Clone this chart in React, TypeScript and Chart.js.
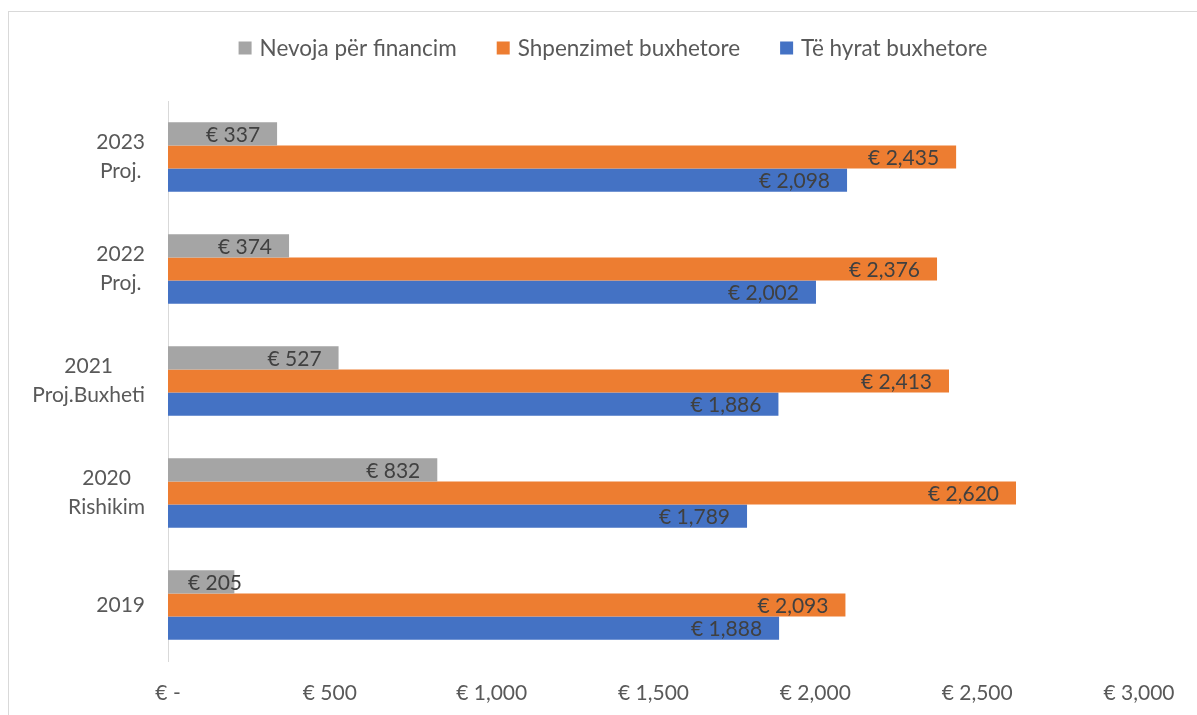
import React, { useEffect, useRef } from 'react';
import { Chart, registerables } from 'chart.js';

Chart.register(...registerables);

const categories: string[][] = [['2023', 'Proj.'], ['2022', 'Proj.'], ['2021', 'Proj.Buxheti'], ['2020', 'Rishikim'], ['2019']];
const seriesNames = ['Nevoja për financim', 'Shpenzimet buxhetore', 'Të hyrat buxhetore'];
const financingNeed = [337, 374, 527, 832, 205];
const budgetExpenditure = [2435, 2376, 2413, 2620, 2093];
const budgetRevenue = [2098, 2002, 1886, 1789, 1888];
const xTickValues = [0, 500, 1000, 1500, 2000, 2500, 3000];
const seriesColors = ['#A5A5A5', '#ED7D31', '#4472C4'];

const FONT = 'Lato';
const FONT_SIZE = 21;
const LEGEND_FONT_SIZE = 22.5;
const fmt = (v: number) => (v === 0 ? '€ -' : '€ ' + v.toLocaleString('en-US'));

const customPlugin = {
  id: 'customDraw',
  afterDraw(chart: any) {
    const ctx: CanvasRenderingContext2D = chart.ctx;
    const area = chart.chartArea;
    ctx.save();
    ctx.font = `${FONT_SIZE}px ${FONT}`;

    // data labels (inside end)
    ctx.fillStyle = '#404040';
    ctx.textAlign = 'right';
    ctx.textBaseline = 'middle';
    chart.data.datasets.forEach((ds: any, di: number) => {
      const meta = chart.getDatasetMeta(di);
      meta.data.forEach((bar: any, i: number) => {
        const v = ds.data[i];
        const xr = Math.max(bar.x - 17, bar.base + 74);
        ctx.fillText(fmt(v), xr, bar.y + 1);
      });
    });

    // category labels
    const yScale = chart.scales.y;
    ctx.fillStyle = '#595959';
    ctx.textAlign = 'center';
    const rightEdge = area.left - 23;
    const lh = 28.7;
    categories.forEach((lines, i) => {
      const cy = yScale.getPixelForValue(i);
      const maxW = Math.max(...lines.map((l) => ctx.measureText(l).width));
      const cx = rightEdge - maxW / 2;
      lines.forEach((l, j) => {
        ctx.fillText(l, cx, cy + (j - (lines.length - 1) / 2) * lh);
      });
    });

    // legend
    ctx.font = `${LEGEND_FONT_SIZE}px ${FONT}`;
    const box = 13;
    const boxGap = 8;
    const itemGap = 40;
    const widths = seriesNames.map((n) => ctx.measureText(n).width);
    const total = widths.reduce((a, w) => a + box + boxGap + w, 0) + itemGap * (seriesNames.length - 1);
    let x = 604 - total / 2;
    const ly = 36;
    ctx.textAlign = 'left';
    seriesNames.forEach((n, i) => {
      ctx.fillStyle = seriesColors[i];
      ctx.fillRect(x, ly - box / 2, box, box);
      x += box + boxGap;
      ctx.fillStyle = '#595959';
      ctx.fillText(n, x, ly + 1);
      x += widths[i] + itemGap;
    });
    ctx.restore();
  },
};

export default function App() {
  const canvasRef = useRef<HTMLCanvasElement | null>(null);

  useEffect(() => {
    if (!canvasRef.current) return;
    const chart = new Chart(canvasRef.current, {
      type: 'bar',
      data: {
        labels: categories as any,
        datasets: [
          { label: seriesNames[0], data: financingNeed, backgroundColor: seriesColors[0] },
          { label: seriesNames[1], data: budgetExpenditure, backgroundColor: seriesColors[1] },
          { label: seriesNames[2], data: budgetRevenue, backgroundColor: seriesColors[2] },
        ],
      },
      options: {
        indexAxis: 'y',
        animation: false,
        responsive: false,
        maintainAspectRatio: false,
        layout: { padding: { top: 89, right: 58, left: 0, bottom: 0 } },
        datasets: { bar: { categoryPercentage: 0.622, barPercentage: 1 } },
        plugins: { legend: { display: false }, tooltip: { enabled: false } },
        scales: {
          x: {
            min: 0,
            max: 3000,
            afterBuildTicks: (s: any) => {
              s.ticks = xTickValues.map((v) => ({ value: v }));
            },
            grid: { display: false, drawTicks: false },
            border: { display: false },
            ticks: {
              callback: (v: any) => fmt(Number(v)),
              font: { family: FONT, size: FONT_SIZE },
              color: '#595959',
              padding: 20,
              maxRotation: 0,
              autoSkip: false,
            },
            afterFit: (s: any) => {
              s.height = 54;
            },
          },
          y: {
            grid: { display: false, drawTicks: false },
            border: { display: true, color: '#D9D9D9', width: 1 },
            ticks: { display: false },
            afterFit: (s: any) => {
              s.width = 159;
            },
          },
        },
      },
      plugins: [customPlugin],
    });
    return () => chart.destroy();
  }, []);

  return (
    <div
      style={{
        position: 'absolute',
        left: 8,
        top: 11,
        width: 1189,
        height: 704,
        boxSizing: 'border-box',
        borderTop: '1px solid #D9D9D9',
        borderLeft: '1px solid #D9D9D9',
      }}
    >
      <canvas ref={canvasRef} width={1188} height={703} style={{ display: 'block', width: 1188, height: 703 }} />
    </div>
  );
}
